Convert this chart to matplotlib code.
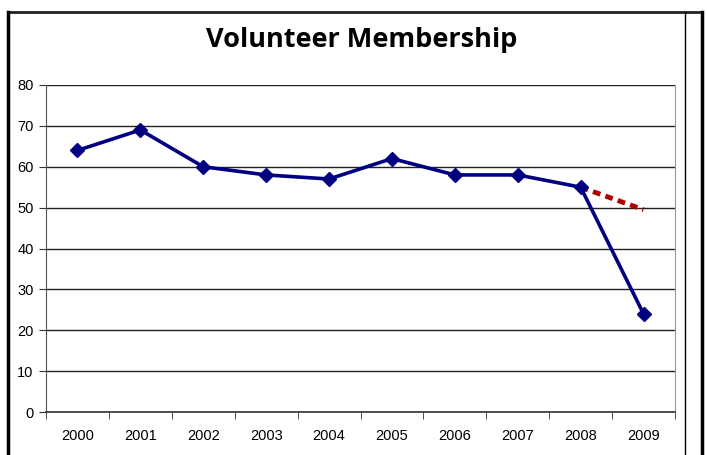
import matplotlib
matplotlib.use("Agg")
import matplotlib.pyplot as plt
from matplotlib.lines import Line2D

years = ["2000", "2001", "2002", "2003", "2004", "2005", "2006", "2007", "2008", "2009"]
members = [64, 69, 60, 58, 57, 62, 58, 58, 55, 24]
proj_years = ["2008", "2009"]
proj_members = [55, 49.5]

W, H = 707, 455
fig = plt.figure(figsize=(W / 100, H / 100), dpi=100)
ax = fig.add_axes([46 / W, 1 - 412 / H, (675 - 46) / W, (412 - 85) / H])

x = list(range(len(years)))
px = [years.index(y) for y in proj_years]
ax.plot(px, proj_members, color="#b00000", lw=3.5, dashes=(1.6, 1.1), zorder=3)
ax.plot(x, members, color="#000080", lw=2.6, marker="D", ms=7.5, zorder=4)

ax.set_xlim(-0.5, len(years) - 0.5)
ax.set_ylim(0, 80)
ax.set_yticks(range(0, 81, 10))
ax.set_xticks(x)
ax.set_xticklabels(years)
ax.set_xticks([i + 0.5 for i in range(-1, len(years))], minor=True)
ax.tick_params(axis="x", which="major", length=0, pad=12)
ax.tick_params(axis="x", which="minor", length=5, direction="out", color="#333333")
ax.tick_params(axis="y", length=5, direction="out", color="#333333", pad=4)
for lab in ax.get_xticklabels() + ax.get_yticklabels():
    lab.set_fontfamily("Liberation Sans")
    lab.set_fontsize(10.5)
ax.grid(axis="y", color="#222222", lw=1)
ax.set_axisbelow(True)
ax.spines["top"].set_visible(False)
ax.spines["right"].set_color("#999999")
ax.spines["left"].set_color("#555555")
ax.spines["bottom"].set_color("#333333")
ax.spines["bottom"].set_linewidth(1.2)

fig.text(362 / W, 1 - 40 / H, "Volunteer Membership", ha="center", va="center",
         fontsize=19.5, fontweight="bold", family="Open Sans")

# outer chart frame
def fline(x0, y0, x1, y1, lw, c):
    fig.add_artist(Line2D([x0 / W, x1 / W], [1 - y0 / H, 1 - y1 / H], lw=lw, color=c,
                          transform=fig.transFigure))

fline(8, 12, 702, 12, 2, "#222222")
fline(8, 12, 8, 455, 2.5, "black")
fline(702, 12, 702, 455, 2.5, "black")
fline(685, 12, 685, 455, 1, "black")

fig.savefig("out.png", dpi=100)
